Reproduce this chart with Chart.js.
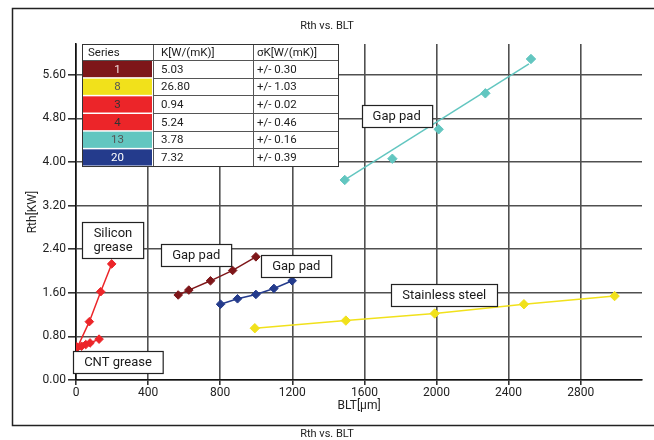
<!DOCTYPE html>
<html><head><meta charset="utf-8">
<script src="https://cdn.jsdelivr.net/npm/chart.js@4"></script>
<style>html,body{margin:0;padding:0;background:#fff}canvas{display:block}</style>
</head><body>
<canvas id="c" width="654" height="440"></canvas>
<script>
// ---- data ----
const chartTitle = 'Rth vs. BLT';
const xAxisTitle = 'BLT[µm]';
const yAxisTitle = 'Rth[KW]';
const xTickValues = [0, 400, 800, 1200, 1600, 2000, 2400, 2800];
const yTickValues = [0, 0.8, 1.6, 2.4, 3.2, 4.0, 4.8, 5.6];
const xRange = [0, 3140];
const yRange = [0, 6.165];

const cntX = [4, 31, 54, 78, 128];
const cntY = [0.61, 0.62, 0.65, 0.68, 0.75];
const siliconX = [8, 74, 137, 198];
const siliconY = [0.60, 1.07, 1.62, 2.13];
const gapPad1X = [567, 626, 746, 869, 998];
const gapPad1Y = [1.56, 1.65, 1.82, 2.01, 2.26];
const gapPad20X = [802, 896, 998, 1098, 1199];
const gapPad20Y = [1.39, 1.49, 1.57, 1.68, 1.82];
const steelX = [992, 1497, 1990, 2485, 2988];
const steelY = [0.95, 1.09, 1.22, 1.39, 1.54];
const gapPad13X = [1491, 1755, 2012, 2271, 2524];
const gapPad13Y = [3.67, 4.06, 4.60, 5.26, 5.89];
const gapPad13FitX = [1491, 2513];
const gapPad13FitY = [3.67, 5.80];

const tableHeader = ['Series', 'K[W/(mK)]', 'σK[W/(mK)]'];
const tableSeries = ['1', '8', '3', '4', '13', '20'];
const tableK = ['5.03', '26.80', '0.94', '5.24', '3.78', '7.32'];
const tableSigma = ['+/- 0.30', '+/- 1.03', '+/- 0.02', '+/- 0.46', '+/- 0.16', '+/- 0.39'];

const labelTexts = [['Silicon', 'grease'], ['Gap pad'], ['Gap pad'], ['CNT grease'], ['Gap pad'], ['Stainless steel']];

// ---- styles / layout ----
const C_DARKRED = '#7e1619', C_RED = '#ec2529', C_BLUE = '#243b8c', C_YELLOW = '#f1e11b', C_CYAN = '#62c6c0';
const tableSwatch = [C_DARKRED, C_YELLOW, C_RED, C_RED, C_CYAN, C_BLUE];
const tableSwatchText = ['#f2dede', '#555', '#333', '#333', '#555', '#fff'];
const labelAnchors = [[205, 2.57], [667, 2.29], [1222, 2.09], [233, 0.33], [1779, 4.84], [2043, 1.56]];
const FONT = 'Roboto, "Open Sans", sans-serif';

function pts(xs, ys) { return xs.map((x, i) => ({ x: x, y: ys[i] })); }
function ds(label, xs, ys, color, extra) {
  return Object.assign({
    label: label, data: pts(xs, ys), showLine: true, borderColor: color, backgroundColor: color,
    borderWidth: 1.5, pointStyle: 'rectRot', pointRadius: 4.3, pointBorderWidth: 1,
    pointBackgroundColor: color, pointBorderColor: color, tension: 0
  }, extra || {});
}

const decor = {
  id: 'decor',
  beforeDraw(chart) {
    const ctx = chart.ctx;
    ctx.save(); ctx.fillStyle = '#fff'; ctx.fillRect(0, 0, chart.width, chart.height); ctx.restore();
  },
  afterDatasetsDraw(chart) {
    const ctx = chart.ctx, xs = chart.scales.x, ys = chart.scales.y;
    ctx.save();
    // annotation boxes
    ctx.font = '13px ' + FONT;
    ctx.textAlign = 'center'; ctx.textBaseline = 'middle';
    labelTexts.forEach((lines, i) => {
      const cx = xs.getPixelForValue(labelAnchors[i][0]);
      const cy = ys.getPixelForValue(labelAnchors[i][1]);
      const w = Math.max(...lines.map(t => ctx.measureText(t).width)) + 22;
      const lh = 14;
      const h = lines.length * lh + 8;
      const x0 = Math.round(cx - w / 2) + 0.5, y0 = Math.round(cy - h / 2) + 0.5;
      ctx.fillStyle = '#fff'; ctx.fillRect(x0, y0, w, h);
      ctx.strokeStyle = '#222'; ctx.lineWidth = 1.2; ctx.strokeRect(x0, y0, w, h);
      ctx.fillStyle = '#1a1a1a';
      lines.forEach((t, j) => ctx.fillText(t, cx, cy + (j - (lines.length - 1) / 2) * lh + 0.5));
    });
    // table
    const cols = [82, 153, 253, 338];
    const top = 44, headH = 16, rowH = 17.67;
    const bottom = top + headH + rowH * tableSeries.length;
    ctx.fillStyle = '#fff'; ctx.fillRect(cols[0], top, cols[3] - cols[0], bottom - top);
    tableSeries.forEach((s, i) => {
      const ry = top + headH + i * rowH;
      ctx.fillStyle = tableSwatch[i];
      ctx.fillRect(cols[0] + 1, ry + 1, cols[1] - cols[0] - 2, rowH - 1.5);
    });
    ctx.strokeStyle = '#555'; ctx.lineWidth = 1;
    for (let i = 0; i <= tableSeries.length; i++) {
      const ry = Math.round(top + headH + i * rowH) + 0.5;
      ctx.beginPath(); ctx.moveTo(cols[1], ry); ctx.lineTo(cols[3], ry); ctx.stroke();
    }
    ctx.beginPath(); ctx.moveTo(cols[0], top + headH + 0.5); ctx.lineTo(cols[1], top + headH + 0.5); ctx.stroke();
    [1, 2].forEach(k => { ctx.beginPath(); ctx.moveTo(cols[k] + 0.5, top); ctx.lineTo(cols[k] + 0.5, bottom); ctx.stroke(); });
    ctx.strokeStyle = '#333';
    ctx.strokeRect(cols[0] + 0.5, top + 0.5, cols[3] - cols[0], bottom - top);
    ctx.font = '11.5px ' + FONT; ctx.textBaseline = 'middle';
    ctx.fillStyle = '#222'; ctx.textAlign = 'left';
    ctx.fillText(tableHeader[0], cols[0] + 6, top + headH / 2 + 1);
    ctx.fillText(tableHeader[1], cols[1] + 8, top + headH / 2 + 1);
    ctx.fillText(tableHeader[2], cols[2] + 4, top + headH / 2 + 1);
    tableSeries.forEach((s, i) => {
      const cy = top + headH + i * rowH + rowH / 2 + 1;
      ctx.textAlign = 'center'; ctx.fillStyle = tableSwatchText[i];
      ctx.fillText(s, (cols[0] + cols[1]) / 2, cy);
      ctx.textAlign = 'left'; ctx.fillStyle = '#222';
      ctx.fillText(tableK[i], cols[1] + 8, cy);
      ctx.fillText(tableSigma[i], cols[2] + 4, cy);
    });
    ctx.restore();
  },
  afterDraw(chart) {
    const ctx = chart.ctx;
    ctx.save();
    ctx.strokeStyle = '#222'; ctx.lineWidth = 1.5;
    ctx.strokeRect(12.5, 8.5, 660, 417);
    ctx.fillStyle = '#222'; ctx.font = '11px ' + FONT; ctx.textAlign = 'center'; ctx.textBaseline = 'middle';
    ctx.fillText(chartTitle, 327, 26);
    ctx.fillText(chartTitle, 327, 434);
    ctx.restore();
  }
};

new Chart(document.getElementById('c'), {
  type: 'scatter',
  data: {
    datasets: [
      ds('CNT grease', cntX, cntY, C_RED),
      ds('Silicon grease', siliconX, siliconY, C_RED),
      ds('Gap pad 1', gapPad1X, gapPad1Y, C_DARKRED),
      ds('Gap pad 20', gapPad20X, gapPad20Y, C_BLUE),
      ds('Stainless steel', steelX, steelY, C_YELLOW, { pointRadius: 4.7 }),
      ds('Gap pad 13', gapPad13X, gapPad13Y, C_CYAN, { showLine: false, pointRadius: 4.7 }),
      ds('Gap pad 13 fit', gapPad13FitX, gapPad13FitY, C_CYAN, { pointRadius: 0 })
    ]
  },
  options: {
    responsive: false, animation: false,
    layout: { padding: { left: 0, right: 12, top: 44, bottom: 24 } },
    plugins: { legend: { display: false }, tooltip: { enabled: false }, title: { display: false } },
    scales: {
      x: {
        type: 'linear', min: xRange[0], max: xRange[1],
        afterFit(s) { s.height = 36; },
        afterBuildTicks(s) { s.ticks = xTickValues.map(v => ({ value: v })); },
        ticks: { color: '#222', font: { family: FONT, size: 12 }, padding: 1, maxRotation: 0, autoSkip: false,
          callback: v => String(v) },
        grid: { color: '#505050', lineWidth: 1.6, tickLength: 5, tickColor: '#333' },
        border: { display: true, color: '#111', width: 1.6 },
        title: { display: true, text: xAxisTitle, color: '#222', font: { family: FONT, size: 12 }, padding: { top: 0, bottom: 3 } }
      },
      y: {
        type: 'linear', min: yRange[0], max: yRange[1],
        afterFit(s) { s.width = 76; },
        afterBuildTicks(s) { s.ticks = yTickValues.map(v => ({ value: v })); },
        ticks: { color: '#222', font: { family: FONT, size: 12 }, padding: 2, autoSkip: false,
          callback: v => Number(v).toFixed(2) },
        grid: { color: '#505050', lineWidth: 1.6, tickLength: 8, tickColor: '#333' },
        border: { display: true, color: '#111', width: 1.6 },
        title: { display: true, text: yAxisTitle, color: '#222', font: { family: FONT, size: 12 }, padding: { top: 26, bottom: 0 } }
      }
    }
  },
  plugins: [decor]
});
</script>
</body></html>
